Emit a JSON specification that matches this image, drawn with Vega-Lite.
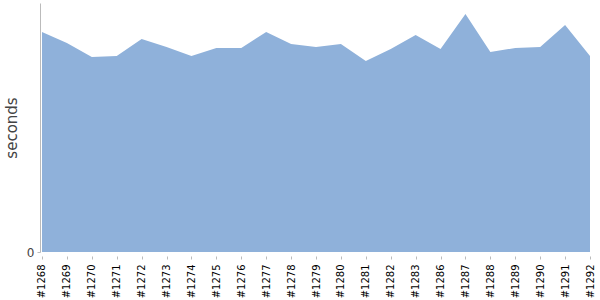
{
  "$schema": "https://vega.github.io/schema/vega-lite/v6.json",
  "width": 552,
  "height": 249,
  "autosize": "none",
  "padding": {"left": 40, "top": 3, "right": 8, "bottom": 48},
  "config": {"view": {"stroke": null}, "font": "DejaVu Sans"},
  "data": {
    "values": [
      {"build": "#1268", "seconds": 220},
      {"build": "#1269", "seconds": 209},
      {"build": "#1270", "seconds": 195},
      {"build": "#1271", "seconds": 196},
      {"build": "#1272", "seconds": 213},
      {"build": "#1273", "seconds": 205},
      {"build": "#1274", "seconds": 196},
      {"build": "#1275", "seconds": 204},
      {"build": "#1276", "seconds": 204},
      {"build": "#1277", "seconds": 220},
      {"build": "#1278", "seconds": 208},
      {"build": "#1279", "seconds": 205},
      {"build": "#1280", "seconds": 208},
      {"build": "#1281", "seconds": 191},
      {"build": "#1282", "seconds": 203},
      {"build": "#1283", "seconds": 217},
      {"build": "#1286", "seconds": 203},
      {"build": "#1287", "seconds": 238},
      {"build": "#1288", "seconds": 200},
      {"build": "#1289", "seconds": 204},
      {"build": "#1290", "seconds": 205},
      {"build": "#1291", "seconds": 227},
      {"build": "#1292", "seconds": 196}
    ]
  },
  "mark": {"type": "area", "color": "#8fb1da", "opacity": 1},
  "encoding": {
    "x": {
      "field": "build",
      "type": "ordinal",
      "sort": null,
      "scale": {"type": "point", "padding": 0.08},
      "axis": {
        "title": null,
        "labelAngle": -90,
        "labelAlign": "right",
        "labelBaseline": "middle",
        "labelFontSize": 10,
        "labelColor": "#000",
        "labelPadding": 5,
        "tickSize": 3,
        "tickColor": "#bbb",
        "domain": false,
        "offset": 4
      }
    },
    "y": {
      "field": "seconds",
      "type": "quantitative",
      "scale": {"domain": [0, 249], "nice": false},
      "axis": {
        "values": [0],
        "grid": false,
        "title": "seconds",
        "titleColor": "#444",
        "titleFontSize": 15,
        "titleFontWeight": "normal",
        "titlePadding": 7,
        "labelColor": "#444",
        "labelFontSize": 12,
        "domainColor": "#bbb",
        "tickColor": "#bbb",
        "tickSize": 3,
        "labelPadding": 3
      }
    }
  }
}
